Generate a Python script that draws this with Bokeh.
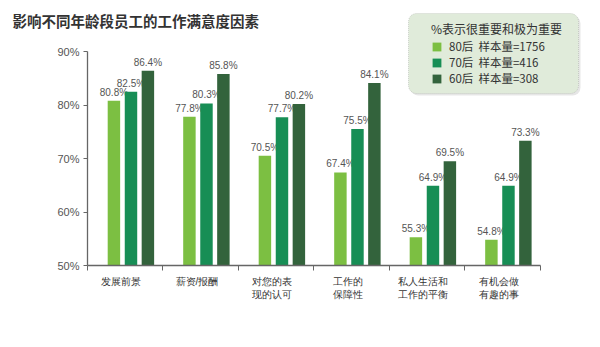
from bokeh.plotting import figure
from bokeh.models import (ColumnDataSource, FixedTicker, Legend, LegendItem,
                          BoxAnnotation, Range1d)
from bokeh.core.properties import value
from bokeh.embed import file_html
from bokeh.resources import INLINE

# ---- data ----
categories = ["发展前景", "薪资/报酬", "对您的表\n现的认可", "工作的\n保障性",
              "私人生活和\n工作的平衡", "有机会做\n有趣的事"]
series_names = ["80后  样本量=1756", "70后  样本量=416", "60后  样本量=308"]
s80 = [80.8, 77.8, 70.5, 67.4, 55.3, 54.8]
s70 = [82.5, 80.3, 77.7, 75.5, 64.9, 64.9]
s60 = [86.4, 85.8, 80.2, 84.1, 69.5, 73.3]
y_ticks = [50, 60, 70, 80, 90]

title_text = "影响不同年龄段员工的工作满意度因素"
legend_title = "%表示很重要和极为重要"

# ---- styles ----
colors = ["#7cbf42", "#178e55", "#33633c"]
offsets = [-0.15, 0.076, 0.30]
bar_w = 0.165
CJK = "Noto Sans CJK SC"
LAT = "Liberation Sans"

# frame spans x 87..600 and y 12..265; axes are bounded to the data area
p = figure(width=600, height=347, output_backend="svg", toolbar_location=None,
           x_range=Range1d(-0.5, 6.295), y_range=Range1d(50, 97.29),
           min_border_left=87, min_border_right=0, min_border_top=12,
           min_border_bottom=82, title=title_text)
p.outline_line_color = None
p.xgrid.visible = False
p.ygrid.visible = False
p.background_fill_color = "white"
p.border_fill_color = "white"

# title (placed in the panel above, allowed to overhang)
p.title.align = "left"
p.title.offset = -75
p.title.standoff = -36
p.title.text_font = CJK
p.title.text_font_size = "14.5px"
p.title.text_font_style = "bold"
p.title.text_color = "#333333"

idx = list(range(len(categories)))
renderers = []
for vals, col, off in zip([s80, s70, s60], colors, offsets):
    src = ColumnDataSource(dict(x=[i + off for i in idx], top=vals,
                                lab=[f"{v:.1f}%" for v in vals]))
    r = p.vbar(x="x", top="top", bottom=50, width=bar_w, source=src,
               fill_color=col, line_color=None)
    renderers.append(r)
    p.text(x="x", y="top", text="lab", source=src, text_align="center",
           text_baseline="bottom", y_offset=-3, text_font=value(LAT),
           text_font_size="10px", text_color="#555555")

# x axis
xa = p.xaxis[0]
xa.bounds = (-0.5, 5.5)
xa.ticker = FixedTicker(ticks=[i - 0.05 for i in idx],
                        minor_ticks=[i - 0.5 for i in range(len(categories) + 1)])
xa.major_label_overrides = {i - 0.05: c for i, c in zip(idx, categories)}
xa.major_tick_out = 0
xa.major_tick_in = 0
xa.minor_tick_out = 5
xa.minor_tick_in = 0
xa.minor_tick_line_color = "#666666"
xa.axis_line_color = "#666666"
xa.axis_line_width = 1.3
xa.major_label_text_font = LAT
xa.major_label_text_font_size = "10px"
xa.major_label_text_color = "#333333"
xa.major_label_standoff = 5

# y axis
ya = p.yaxis[0]
ya.bounds = (50, 90)
ya.ticker = FixedTicker(ticks=y_ticks, minor_ticks=[])
ya.major_label_overrides = {t: f"{t}%" for t in y_ticks}
ya.major_tick_out = 4
ya.major_tick_in = 0
ya.major_tick_line_color = "#666666"
ya.axis_line_color = "#666666"
ya.axis_line_width = 1.3
ya.major_label_text_font = LAT
ya.major_label_text_font_size = "11px"
ya.major_label_text_color = "#555555"
ya.major_label_standoff = 4

# legend box (shadow + box)
box_kw = {}
if "border_radius" in BoxAnnotation.properties():
    box_kw["border_radius"] = 8
shadow = BoxAnnotation(left=323, right=493, bottom=170, top=250,
                       left_units="screen", right_units="screen",
                       bottom_units="screen", top_units="screen",
                       fill_color="#c8c8c8", fill_alpha=0.45, line_color=None,
                       **box_kw)
box = BoxAnnotation(left=321, right=491, bottom=172, top=252,
                    left_units="screen", right_units="screen",
                    bottom_units="screen", top_units="screen",
                    fill_color="#e0ebda", fill_alpha=1.0, line_color="#888888",
                    line_dash="1 1", line_width=1, **box_kw)
p.add_layout(shadow)
p.add_layout(box)

legend = Legend(items=[LegendItem(label=n, renderers=[r]) for n, r in zip(series_names, renderers)],
                location=(344, 179), title=legend_title,
                title_text_font=CJK, title_text_font_size="12px",
                title_text_font_style="normal", title_text_color="#333333",
                title_standoff=1,
                label_text_font=CJK, label_text_font_size="11.5px",
                label_text_color="#333333", label_standoff=7,
                glyph_width=11, glyph_height=11, label_height=11,
                spacing=0, padding=0, margin=0,
                background_fill_alpha=0, border_line_color=None)
p.add_layout(legend)

open("out.html", "w").write(file_html(p, INLINE))
